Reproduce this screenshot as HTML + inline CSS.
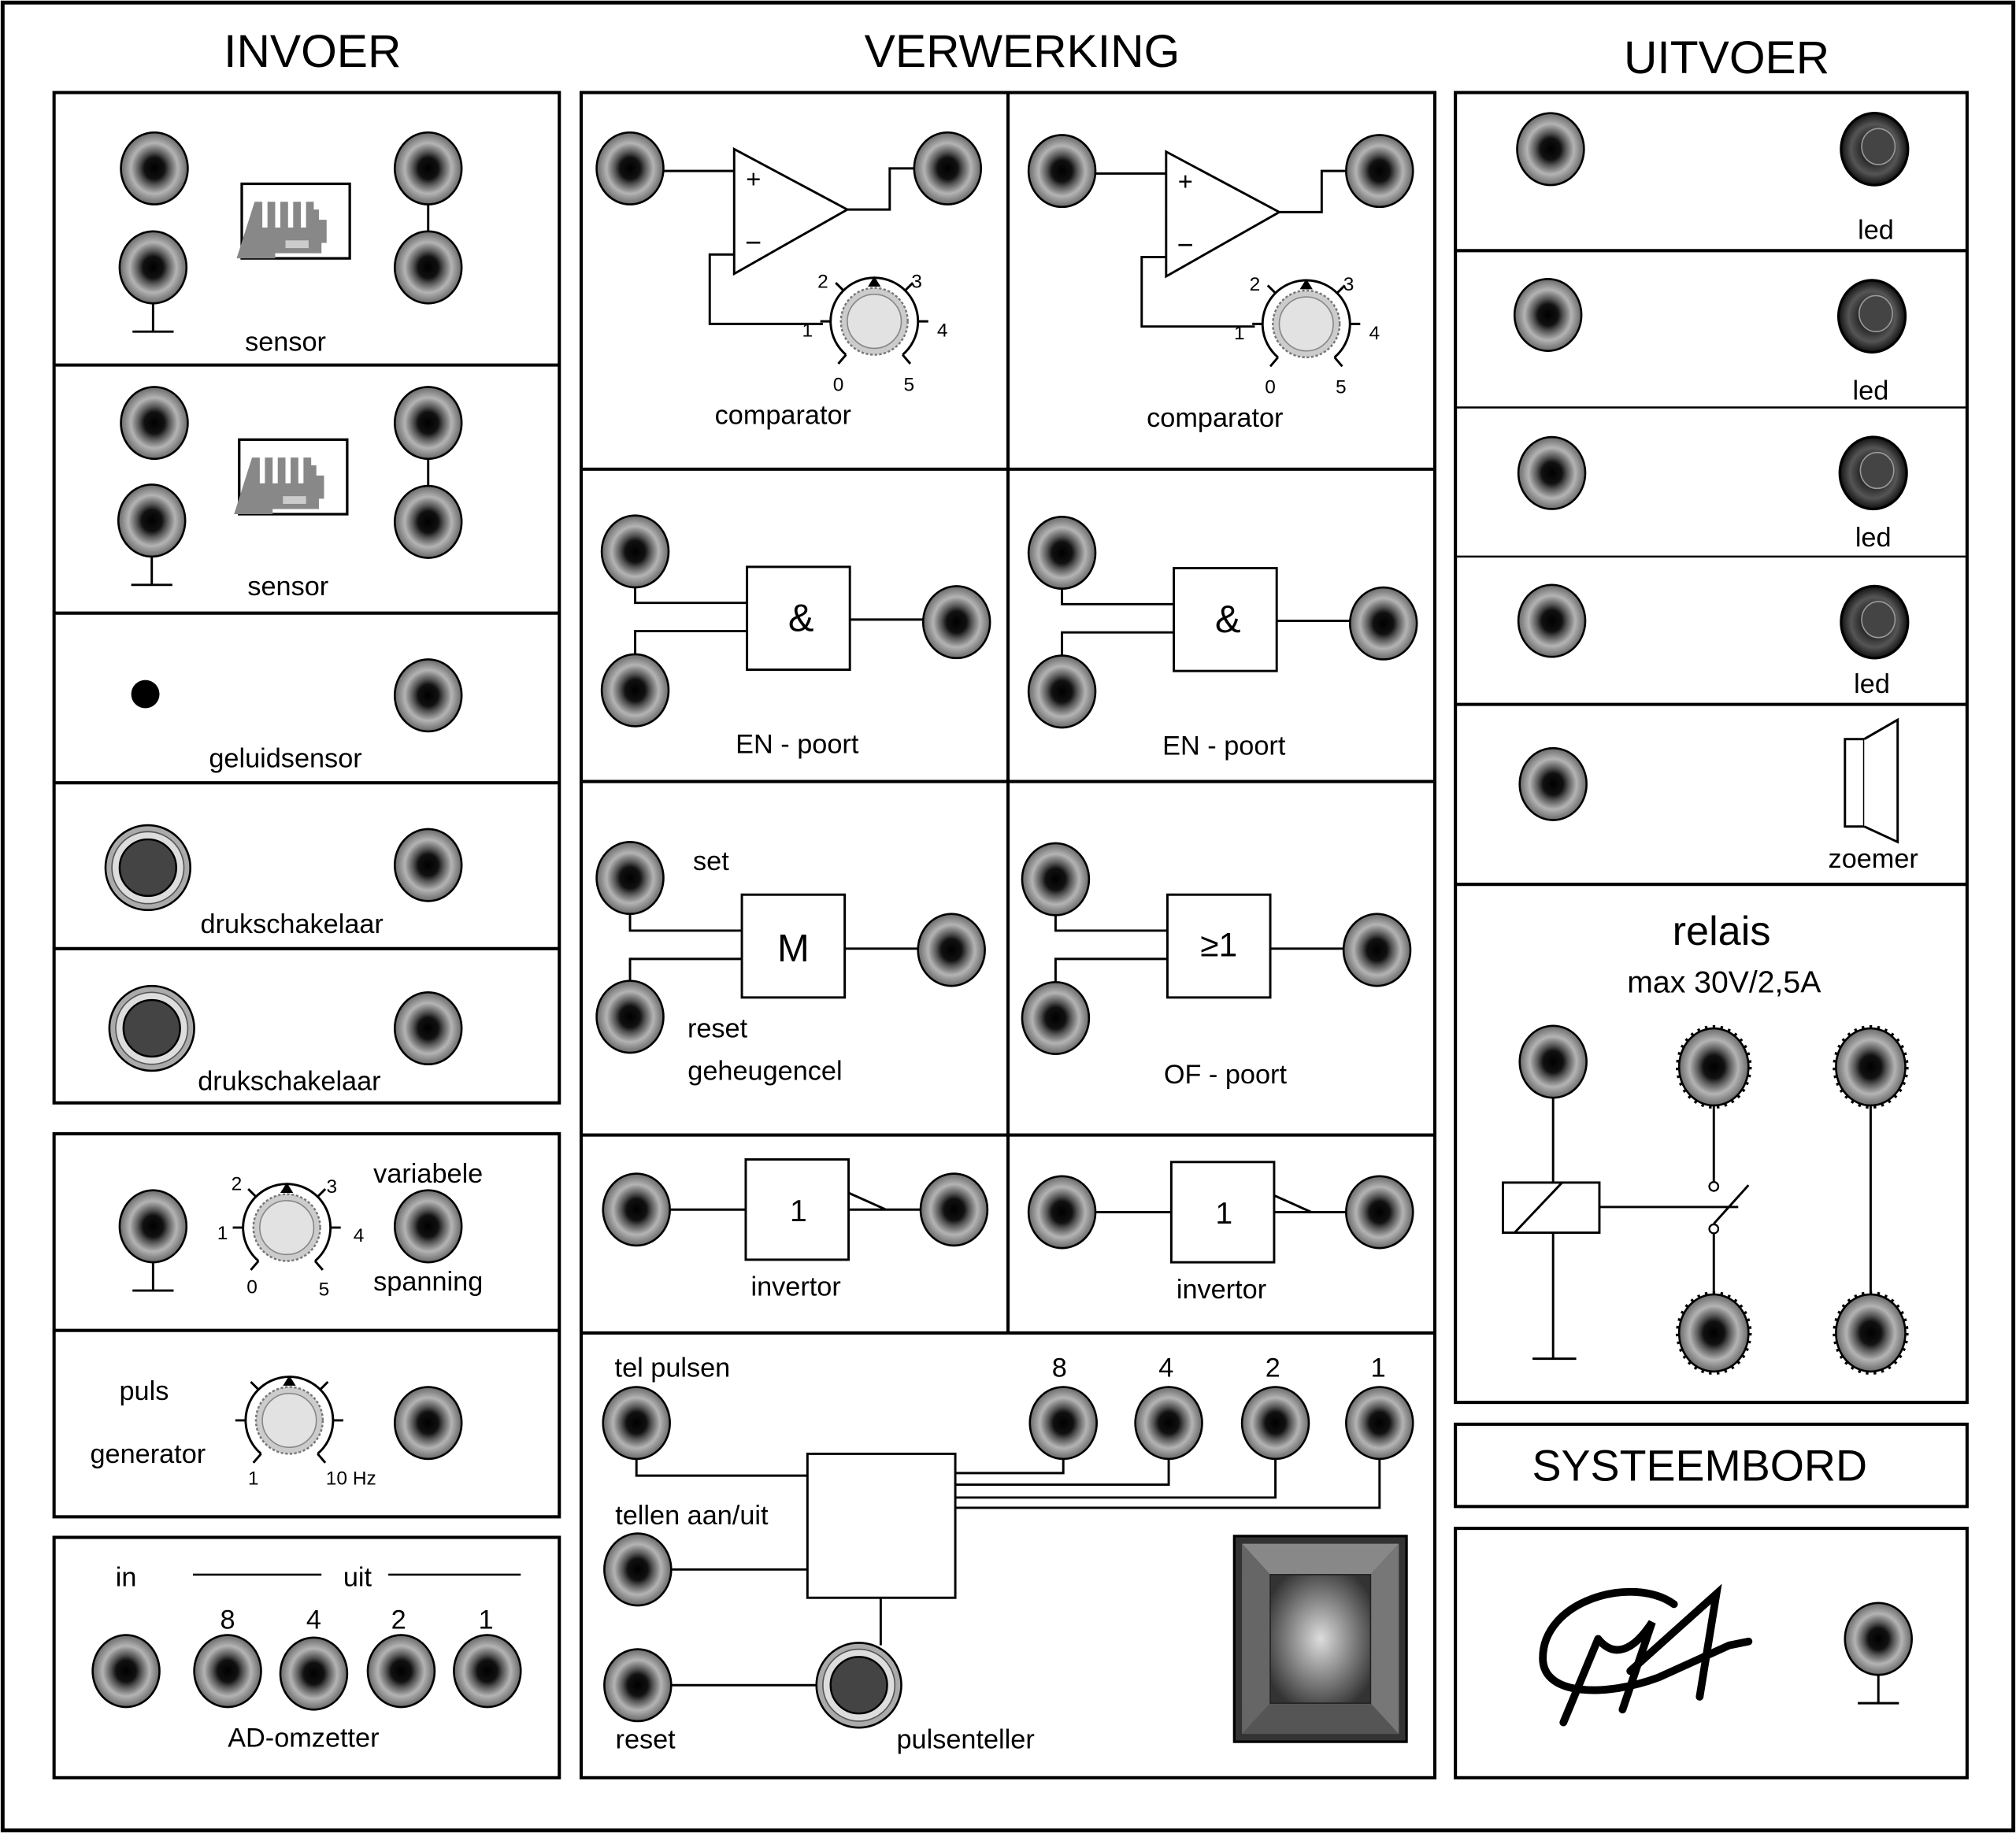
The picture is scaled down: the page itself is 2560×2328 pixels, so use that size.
<!DOCTYPE html>
<html><head><meta charset="utf-8"><style>
html,body{margin:0;padding:0;background:#fff}
svg{display:block}
text{font-family:"Liberation Sans",sans-serif;fill:#000}
</style></head><body>
<svg width="2560" height="2328" viewBox="0 0 1568 1426" xmlns="http://www.w3.org/2000/svg">
<defs>
<radialGradient id="sg" cx="50%" cy="50%" r="50%">
<stop offset="0" stop-color="#000"/><stop offset="0.3" stop-color="#111"/><stop offset="0.45" stop-color="#555"/><stop offset="0.7" stop-color="#b4b4b4"/><stop offset="1" stop-color="#6a6a6a"/>
</radialGradient>
<radialGradient id="lg" cx="50%" cy="50%" r="50%">
<stop offset="0" stop-color="#888"/><stop offset="0.35" stop-color="#222"/><stop offset="0.7" stop-color="#555"/><stop offset="1" stop-color="#111"/>
</radialGradient>
<radialGradient id="dg" cx="50%" cy="50%" r="60%">
<stop offset="0" stop-color="#ddd"/><stop offset="0.5" stop-color="#888"/><stop offset="1" stop-color="#333"/>
</radialGradient>
<g id="s"><ellipse rx="26" ry="28" fill="url(#sg)" stroke="#000" stroke-width="1.6"/></g>
<g id="ss"><ellipse rx="27" ry="30" fill="url(#sg)" stroke="#000" stroke-width="1.6"/><ellipse rx="28" ry="31" fill="none" stroke="#000" stroke-width="3" stroke-dasharray="2 4"/></g>
<g id="led"><ellipse rx="26" ry="28" fill="url(#lg)" stroke="#000" stroke-width="2"/><ellipse cx="3" cy="-2" rx="13" ry="14" fill="#444" stroke="#999" stroke-width="1"/></g>
<g id="btn"><circle r="33" fill="#aaa" stroke="#000" stroke-width="1.6"/><circle r="28" fill="#ddd" stroke="#555"/><circle r="22" fill="#444" stroke="#000" stroke-width="1.5"/></g>
<g id="knob" fill="none" stroke="#000" stroke-width="1.8">
<path d="M -22 26 A 34 34 0 1 1 22 26"/>
<path d="M -22 26 L -28 33 M 22 26 L 28 33 M -34 0 L -42 0 M 34 0 L 42 0 M -24 -24 L -30 -30 M 24 -24 L 30 -30"/>
<circle r="26" fill="#ccc" stroke="#777" stroke-width="1.5" stroke-dasharray="2 1.5"/>
<circle r="21" fill="#e2e2e2" stroke="#888" stroke-width="1"/>
<path d="M -5 -27 L 5 -27 L 0 -35 Z" fill="#000" stroke="none"/>
</g>
<g id="gnd" stroke="#000" stroke-width="1.8"><path d="M0 0 V22 M-16 22 H16"/></g>
<g id="sens"><rect width="84" height="58" fill="#fff" stroke="#000" stroke-width="2"/>
<path d="M10 14 h6 v20 h4 v-20 h6 v20 h4 v-20 h6 v20 h4 v-20 h6 v20 h4 v-20 h6 v6 h4 v8 h6 v18 h-4 v8 h-36 v4 h-30 z" fill="#888"/>
<rect x="34" y="44" width="18" height="6" fill="#ccc"/></g>
</defs>
<rect x="2" y="2" width="1564" height="1422" fill="#fff" stroke="#000" stroke-width="3"/>
<g font-size="36" text-anchor="middle">
<text x="243" y="52">INVOER</text><text x="795" y="52">VERWERKING</text><text x="1343" y="57">UITVOER</text>
</g>
<g fill="none" stroke="#000" stroke-width="2.5">
<rect x="42" y="72" width="393" height="786"/>
<path d="M42 284 H435 M42 477 H435 M42 609 H435 M42 738 H435"/>
<rect x="42" y="882" width="393" height="298"/>
<path d="M42 1035 H435"/>
<rect x="42" y="1196" width="393" height="187"/>
<rect x="452" y="72" width="664" height="1311"/>
<path d="M452 365 H1116 M452 608 H1116 M452 883 H1116 M452 1037 H1116 M784 72 V1037"/>
<rect x="1132" y="72" width="398" height="1019"/>
<path d="M1132 195 H1530 M1132 548 H1530 M1132 688 H1530"/>
<rect x="1132" y="1108" width="398" height="64"/>
<rect x="1132" y="1189" width="398" height="194"/>
</g>
<path d="M1132 317 H1530 M1132 433 H1530" stroke="#000" stroke-width="1.5"/>
<g font-size="21" text-anchor="middle">
<use href="#s" x="120" y="131"/><use href="#s" x="119" y="208"/><use href="#s" x="333" y="131"/><use href="#s" x="333" y="208"/>
<use href="#gnd" x="119" y="236"/><path d="M333 159 V180" stroke="#000" stroke-width="1.8"/>
<use href="#sens" x="188" y="143"/><text x="222" y="273">sensor</text>
<use href="#s" x="120" y="329"/><use href="#s" x="118" y="405"/><use href="#s" x="333" y="329"/><use href="#s" x="333" y="406"/>
<use href="#gnd" x="118" y="433"/><path d="M333 357 V378" stroke="#000" stroke-width="1.8"/>
<use href="#sens" x="186" y="342"/><text x="224" y="463">sensor</text>
<circle cx="113" cy="540" r="11" fill="#000"/><use href="#s" x="333" y="541"/><text x="222" y="597">geluidsensor</text>
<use href="#btn" x="115" y="675"/><use href="#s" x="333" y="673"/><text x="227" y="726">drukschakelaar</text>
<use href="#btn" x="118" y="800"/><use href="#s" x="333" y="800"/><text x="225" y="848">drukschakelaar</text>
<use href="#s" x="119" y="954"/><use href="#gnd" x="119" y="982"/>
<use href="#knob" x="223" y="955"/>
<g font-size="15"><text x="184" y="926">2</text><text x="258" y="928">3</text><text x="173" y="964">1</text><text x="279" y="966">4</text><text x="196" y="1006">0</text><text x="252" y="1008">5</text></g>
<use href="#s" x="333" y="954"/><text x="333" y="920">variabele</text><text x="333" y="1004">spanning</text>
<text x="112" y="1089">puls</text><text x="115" y="1138">generator</text>
<use href="#knob" x="225" y="1105"/>
<g font-size="15"><text x="197" y="1155">1</text><text x="273" y="1155">10 Hz</text></g>
<use href="#s" x="333" y="1107"/>
<text x="98" y="1234">in</text><text x="278" y="1234">uit</text>
<path d="M150 1225 H250 M302 1225 H405" stroke="#000" stroke-width="1.5"/>
<text x="177" y="1267">8</text><text x="244" y="1267">4</text><text x="310" y="1267">2</text><text x="378" y="1267">1</text>
<use href="#s" x="98" y="1300"/><use href="#s" x="177" y="1300"/><use href="#s" x="244" y="1302"/><use href="#s" x="312" y="1300"/><use href="#s" x="379" y="1300"/>
<text x="236" y="1359">AD-omzetter</text>
<g id="cmp">
<use href="#s" x="490" y="131"/><use href="#s" x="737" y="131"/>
<path d="M571 116 L571 213 L659 163 Z" fill="#fff" stroke="#000" stroke-width="1.8"/>
<path d="M516 133 H571 M659 163 H692 V131 H711 M571 198 H552 V252 H640" fill="none" stroke="#000" stroke-width="1.8"/>
<text x="586" y="146" font-size="20">+</text><text x="586" y="196" font-size="22">−</text>
<use href="#knob" x="680" y="250"/>
<g font-size="15"><text x="640" y="224">2</text><text x="713" y="224">3</text><text x="628" y="262">1</text><text x="733" y="262">4</text><text x="652" y="304">0</text><text x="707" y="304">5</text></g>
<text x="609" y="330">comparator</text>
</g>
<use href="#cmp" x="336" y="2"/>
<g id="en">
<use href="#s" x="494" y="429"/><use href="#s" x="494" y="537"/><use href="#s" x="744" y="484"/>
<path d="M494 457 V469 H581 M494 509 V491 H581 M661 482 H718" fill="none" stroke="#000" stroke-width="1.8"/>
<rect x="581" y="441" width="80" height="80" fill="#fff" stroke="#000" stroke-width="1.8"/>
<text x="623" y="491" font-size="30">&amp;</text>
<text x="620" y="586">EN - poort</text>
</g>
<use href="#en" x="332" y="1"/>
<use href="#s" x="490" y="683"/><use href="#s" x="490" y="791"/><use href="#s" x="740" y="739"/>
<path d="M490 711 V724 H577 M490 763 V746 H577 M657 738 H714" fill="none" stroke="#000" stroke-width="1.8"/>
<rect x="577" y="696" width="80" height="80" fill="#fff" stroke="#000" stroke-width="1.8"/>
<text x="617" y="748" font-size="30">M</text>
<text x="553" y="677">set</text><text x="558" y="807">reset</text><text x="595" y="840">geheugencel</text>
<use href="#s" x="821" y="684"/><use href="#s" x="821" y="792"/><use href="#s" x="1071" y="739"/>
<path d="M821 712 V724 H908 M821 764 V746 H908 M988 738 H1045" fill="none" stroke="#000" stroke-width="1.8"/>
<rect x="908" y="696" width="80" height="80" fill="#fff" stroke="#000" stroke-width="1.8"/>
<text x="948" y="744" font-size="26">≥1</text>
<text x="953" y="843">OF - poort</text>
<g id="inv">
<use href="#s" x="495" y="941"/><use href="#s" x="742" y="941"/>
<path d="M521 941 H580 M660 928 L689 941 M660 941 H716" fill="none" stroke="#000" stroke-width="1.8"/>
<rect x="580" y="902" width="80" height="78" fill="#fff" stroke="#000" stroke-width="1.8"/>
<text x="621" y="950" font-size="24">1</text>
<text x="619" y="1008">invertor</text>
</g>
<use href="#inv" x="331" y="2"/>
<text x="523" y="1071">tel pulsen</text>
<text x="824" y="1071">8</text><text x="907" y="1071">4</text><text x="990" y="1071">2</text><text x="1072" y="1071">1</text>
<path d="M495 1133 V1148 H628 M827 1133 V1146 H743 M909 1133 V1155 H743 M992 1133 V1165 H743 M1073 1133 V1173 H743 M522 1221 H628 M522 1311 H636 M685 1243 V1280" fill="none" stroke="#000" stroke-width="1.8"/>
<use href="#s" x="495" y="1107"/><use href="#s" x="827" y="1107"/><use href="#s" x="909" y="1107"/><use href="#s" x="992" y="1107"/><use href="#s" x="1073" y="1107"/>
<rect x="628" y="1131" width="115" height="112" fill="#fff" stroke="#000" stroke-width="1.8"/>
<text x="538" y="1186">tellen aan/uit</text><use href="#s" x="496" y="1221"/>
<use href="#s" x="496" y="1311"/><use href="#btn" x="668" y="1311"/>
<text x="502" y="1360">reset</text><text x="751" y="1360">pulsenteller</text>
<rect x="960" y="1195" width="134" height="160" fill="#333" stroke="#000" stroke-width="2"/>
<path d="M966 1201 H1088 L1066 1225 H988 Z" fill="#888"/>
<path d="M966 1349 H1088 L1066 1325 H988 Z" fill="#555"/>
<path d="M966 1201 V1349 L988 1325 V1225 Z" fill="#666"/>
<path d="M1088 1201 V1349 L1066 1325 V1225 Z" fill="#777"/>
<rect x="988" y="1225" width="78" height="100" fill="url(#dg)" stroke="#222"/>
<use href="#s" x="1206" y="116"/><use href="#led" x="1458" y="116"/><text x="1459" y="186">led</text>
<use href="#s" x="1204" y="245"/><use href="#led" x="1456" y="246"/><text x="1455" y="311">led</text>
<use href="#s" x="1207" y="368"/><use href="#led" x="1457" y="368"/><text x="1457" y="425">led</text>
<use href="#s" x="1207" y="483"/><use href="#led" x="1458" y="484"/><text x="1456" y="539">led</text>
<use href="#s" x="1208" y="610"/>
<rect x="1435" y="575" width="15" height="68" fill="#fff" stroke="#000" stroke-width="1.8"/>
<path d="M1450 575 L1476 560 V655 L1450 643" fill="#fff" stroke="#000" stroke-width="1.8"/>
<text x="1457" y="675">zoemer</text>
<text x="1339" y="735" font-size="32">relais</text>
<text x="1341" y="772" font-size="24">max 30V/2,5A</text>
<path d="M1208 852 V920 M1208 959 V1057 M1192 1057 H1226 M1244 939 H1352 M1333 859 V919 M1333 960 V1007 M1333 952 L1360 922 M1455 859 V1007" fill="none" stroke="#000" stroke-width="1.8"/>
<rect x="1169" y="920" width="75" height="39" fill="#fff" stroke="#000" stroke-width="1.8"/>
<path d="M1178 959 L1215 920" stroke="#000" stroke-width="1.8"/>
<circle cx="1333" cy="923" r="3.5" fill="#fff" stroke="#000" stroke-width="1.4"/>
<circle cx="1333" cy="956" r="3.5" fill="#fff" stroke="#000" stroke-width="1.4"/>
<use href="#s" x="1208" y="826"/><use href="#ss" x="1333" y="830"/><use href="#ss" x="1455" y="830"/><use href="#ss" x="1333" y="1037"/><use href="#ss" x="1455" y="1037"/>
<text x="1322" y="1152" font-size="34">SYSTEEMBORD</text>
<g fill="none" stroke="#000" stroke-linecap="round">
<path d="M1302 1248 C1270 1225 1200 1245 1200 1290 C1200 1320 1250 1320 1290 1305 L1345 1280 L1360 1277" stroke-width="6"/>
<path d="M1243 1275 L1216 1340" stroke-width="6"/>
<path d="M1243 1275 C1255 1290 1270 1285 1285 1262 L1262 1330" stroke-width="6"/>
<path d="M1268 1300 L1335 1240 L1322 1320" stroke-width="6"/>
</g>
<use href="#s" x="1461" y="1275"/><use href="#gnd" x="1461" y="1303"/>
</g>
</svg>
</body></html>
